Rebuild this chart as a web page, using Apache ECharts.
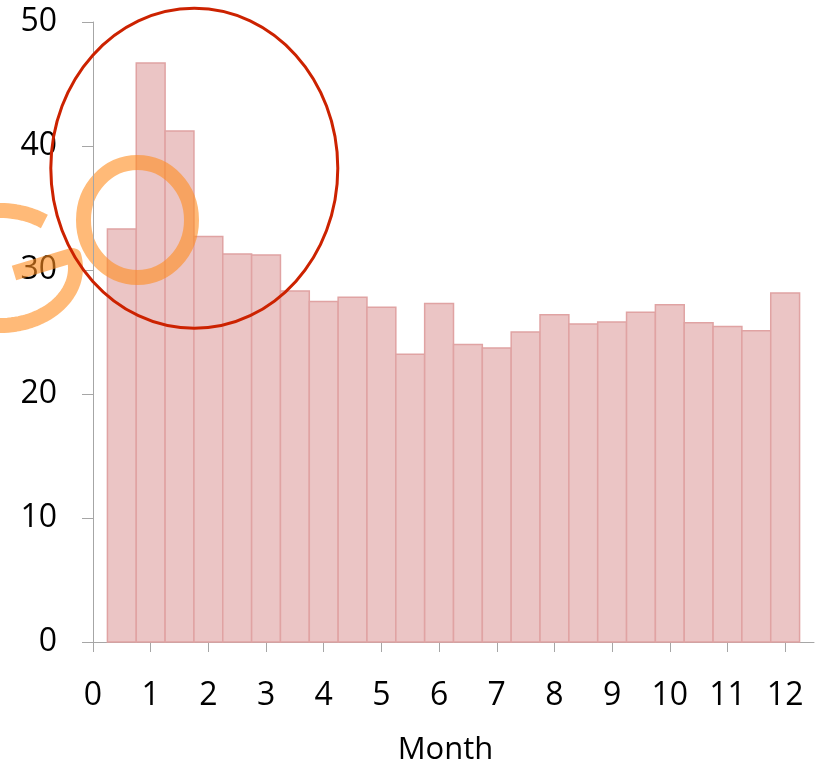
<!DOCTYPE html>
<html>
<head>
<meta charset="utf-8">
<style>
  html, body { margin: 0; padding: 0; background: #ffffff; }
  #chart { width: 815px; height: 762px; }
</style>
<script src="https://cdn.jsdelivr.net/npm/echarts@6/dist/echarts.min.js"></script>
</head>
<body>
<div id="chart"></div>
<script>
// Bin centres (months) and bar heights of the histogram
const binCenters = [0.5, 1, 1.5, 2, 2.5, 3, 3.5, 4, 4.5, 5, 5.5, 6,
                    6.5, 7, 7.5, 8, 8.5, 9, 9.5, 10, 10.5, 11, 11.5, 12];
const binValues  = [33.3, 46.7, 41.2, 32.7, 31.3, 31.2, 28.3, 27.45, 27.8, 27.0, 23.2, 27.3,
                    24.0, 23.7, 25.0, 26.4, 25.65, 25.8, 26.6, 27.2, 25.75, 25.45, 25.1, 28.15];
const binWidth = 0.5;
const xTicks = [0, 1, 2, 3, 4, 5, 6, 7, 8, 9, 10, 11, 12];
const yTicks = [0, 10, 20, 30, 40, 50];
const xName = 'Month';

const FONT = '"Open Sans", "Noto Sans", sans-serif';
const AXIS_GREY = '#A6A6A6';
const ORANGE = 'rgba(255,140,30,0.6)';

// Outline of the hand-drawn "G": a crossbar followed by an open elliptical arc
function letterGPoints() {
  const cx = 0, cy = 268, rx = 75.5, ry = 57.5;
  const pts = [[14, 273], [72, 255.5]];
  for (let deg = -12; deg <= 308; deg += 3) {
    const t = deg * Math.PI / 180;
    pts.push([cx + rx * Math.cos(t), cy + ry * Math.sin(t)]);
  }
  return pts;
}

const chart = echarts.init(document.getElementById('chart'), null, { renderer: 'canvas' });

chart.setOption({
  animation: false,
  grid: { left: 93, top: 22, right: 1, bottom: 120, containLabel: false, outerBoundsMode: 'none' },
  xAxis: {
    type: 'value',
    min: 0,
    max: 12.5,
    interval: 1,
    name: xName,
    nameLocation: 'middle',
    nameGap: 93,
    nameTextStyle: { fontFamily: FONT, fontSize: 31, color: '#000', padding: [0, 16, 0, 0] },
    axisLine: { show: true, onZero: false, lineStyle: { color: AXIS_GREY, width: 1 } },
    axisTick: { show: true, inside: false, length: 10, customValues: xTicks,
                lineStyle: { color: AXIS_GREY } },
    axisLabel: { customValues: xTicks, margin: 38, fontFamily: FONT, fontSize: 32, color: '#000' },
    splitLine: { show: false }
  },
  yAxis: {
    type: 'value',
    min: 0,
    max: 50,
    interval: 10,
    z: 5,
    axisLine: { show: true, lineStyle: { color: AXIS_GREY, width: 1 } },
    axisTick: { show: true, inside: false, length: 11, lineStyle: { color: AXIS_GREY } },
    axisLabel: { customValues: yTicks, margin: 36, fontFamily: FONT, fontSize: 32, color: '#000' },
    splitLine: { show: false }
  },
  series: [{
    type: 'custom',
    z: 2,
    data: binCenters.map((c, i) => [c, binValues[i]]),
    renderItem: function (params, api) {
      const c = api.value(0);
      const v = api.value(1);
      const p0 = api.coord([c - binWidth / 2, v]);
      const p1 = api.coord([c + binWidth / 2, 0]);
      return {
        type: 'rect',
        shape: { x: p0[0], y: p0[1], width: p1[0] - p0[0], height: p1[1] - p0[1] },
        style: { fill: '#EBC5C5', stroke: '#E0A3A3', lineWidth: 1.5 }
      };
    }
  }],
  graphic: [
    // "G" letter, translucent over the axis labels
    {
      type: 'polyline', z: 7,
      shape: { points: letterGPoints() },
      style: { stroke: ORANGE, fill: null, lineWidth: 15, lineJoin: 'round' }
    },
    // "O" letter over the bars
    {
      type: 'ellipse', z: 3,
      shape: { cx: 137.5, cy: 220, rx: 54, ry: 57.5 },
      style: { stroke: ORANGE, fill: null, lineWidth: 15 }
    },
    // Red highlight ring around the early peak
    {
      type: 'ellipse', z: 8,
      shape: { cx: 194.3, cy: 168.3, rx: 143.5, ry: 160 },
      style: { stroke: '#CC2200', fill: null, lineWidth: 3 }
    }
  ]
});
</script>
</body>
</html>
